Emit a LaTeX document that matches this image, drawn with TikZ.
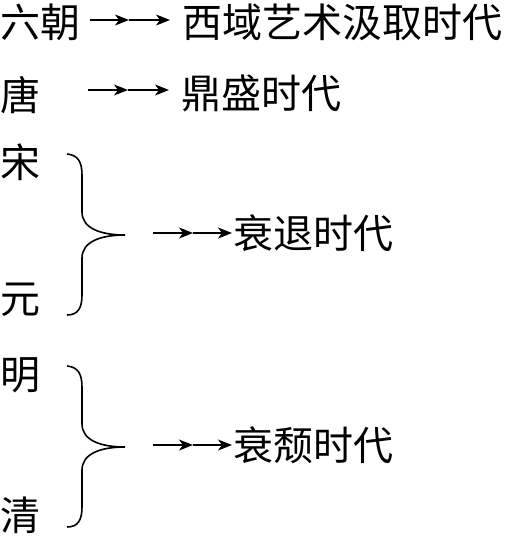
\documentclass[tikz,border=0pt]{standalone}
\usepackage{fontspec}
\newfontfamily\cjk{Noto Sans CJK SC}
\usetikzlibrary{arrows.meta,calc}

\begin{document}
\begin{tikzpicture}[x=1pt,y=-1pt,
        lbl/.style={anchor=west, inner sep=0pt, font=\cjk\fontsize{40}{46}\selectfont},
        arr/.style={draw, line width=1.3pt, -{Stealth[length=14pt,width=11pt,inset=4pt]}},
        brace/.style={draw, line width=1.6pt}]
        \useasboundingbox (0,0) rectangle (505,536);
        %dynasties
        \node[lbl] (liu) at (0,22) {六朝};
        \node[lbl] (tang) at (0,95) {唐};
        \node[lbl] (song) at (0,162) {宋};
        \node[lbl] (yuan) at (0,300) {元};
        \node[lbl] (ming) at (0,375) {明};
        \node[lbl] (qing) at (0,515) {清};
        %eras
        \node[lbl] (e1) at (182,22) {西域艺术汲取时代};
        \node[lbl] (e2) at (181,93) {鼎盛时代};
        \node[lbl] (e3) at (233,233) {衰退时代};
        \node[lbl] (e4) at (233,445) {衰颓时代};
        %braces
        \path[brace] (67,154) .. controls (78,155) and (82,162) .. (82,175) -- (82,212)
            .. controls (82,228) and (100,235) .. (125,235)
            .. controls (100,235) and (82,242) .. (82,258) -- (82,295)
            .. controls (82,308) and (78,315) .. (67,315);
        \path[brace] (67,366) .. controls (78,367) and (82,374) .. (82,387) -- (82,424)
            .. controls (82,440) and (100,447) .. (125,447)
            .. controls (100,447) and (82,454) .. (82,470) -- (82,507)
            .. controls (82,520) and (78,527) .. (67,527);
        %arrows
        \coordinate (a1) at (90,20);
        \coordinate (b1) at (129,20);
        \coordinate (a2) at (88,90);
        \coordinate (b2) at (128,90);
        \coordinate (a3) at (153,233);
        \coordinate (b3) at (193,233);
        \coordinate (a4) at (153,445);
        \coordinate (b4) at (193,445);
        \path[arr] (a1) -- (b1);
        \path[arr, shorten >=12pt] (b1) -- (b1 -| e1.west);
        \path[arr] (a2) -- (b2);
        \path[arr, shorten >=12pt] (b2) -- (b2 -| e2.west);
        \path[arr] (a3) -- (b3);
        \path[arr, shorten >=1pt] (b3) -- (b3 -| e3.west);
        \path[arr] (a4) -- (b4);
        \path[arr, shorten >=1pt] (b4) -- (b4 -| e4.west);
\end{tikzpicture}
\end{document}
